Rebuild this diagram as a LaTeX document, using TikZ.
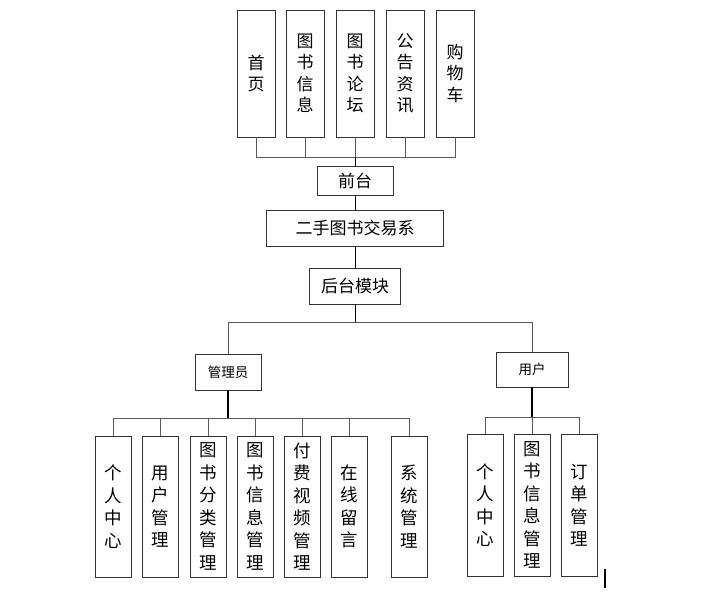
\documentclass[tikz,border=0pt]{standalone}
\usepackage{fontspec}
\setmainfont{Noto Sans CJK SC}

\begin{document}
\begin{tikzpicture}[x=1pt,y=-1pt,
    col/.style={draw=black!80,line width=0.9pt,minimum width=38pt,minimum height=127pt,
      inner sep=0pt,align=center,font=\fontsize{17}{21.5}\selectfont},
    leaf/.style={col,minimum width=36pt,minimum height=141pt,font=\fontsize{17.5}{22.5}\selectfont},
    box/.style={draw=black!80,line width=0.9pt,inner sep=0pt,font=\fontsize{17}{19}\selectfont},
    small/.style={box,font=\fontsize{13.5}{15}\selectfont},
    wire/.style={draw=black!65,line width=0.9pt}]
  \useasboundingbox (0,0) rectangle (704,594);
  % front end
  \node[col] (home) at (256,73.5) {首\\页};
  \node[col] (info) at (305,73.5) {图\\书\\信\\息};
  \node[col] (forum) at (355,73.5) {图\\书\\论\\坛};
  \node[col] (news) at (405,73.5) {公\\告\\资\\讯};
  \node[col] (cart) at (455,73.5) {购\\物\\车};
  \node[box,minimum width=76pt,minimum height=29pt] (front) at (355,180.5) {前台};
  \node[box,minimum width=177pt,minimum height=36pt] (sys) at (355,228) {二手图书交易系};
  \node[box,minimum width=91pt,minimum height=36pt] (back) at (355,286) {后台模块};
  % roles
  \node[small,minimum width=66pt,minimum height=36pt] (admin) at (228,372) {管理员};
  \node[small,minimum width=72pt,minimum height=35pt] (user) at (532,369.5) {用户};
  % admin modules
  \node[leaf] (a1) at (113,506.5) {个\\人\\中\\心};
  \node[leaf] (a2) at (160,506.5) {用\\户\\管\\理};
  \node[leaf] (a3) at (208,506.5) {图\\书\\分\\类\\管\\理};
  \node[leaf] (a4) at (255,506.5) {图\\书\\信\\息\\管\\理};
  \node[leaf] (a5) at (302,506.5) {付\\费\\视\\频\\管\\理};
  \node[leaf] (a6) at (349.5,506.5) {在\\线\\留\\言};
  \node[leaf] (a7) at (409,506.5) {系\\统\\管\\理};
  % user modules
  \node[leaf,minimum height=142pt] (u1) at (485,505) {个\\人\\中\\心};
  \node[leaf,minimum height=142pt] (u2) at (532,505) {图\\书\\信\\息\\管\\理};
  \node[leaf,minimum height=142pt] (u3) at (579,505) {订\\单\\管\\理};
  % buses
  \coordinate (tbus) at (355,157);
  \coordinate (mbus) at (355,322);
  \coordinate (abus) at (228,418);
  \coordinate (ubus) at (532,417);
  \foreach \n in {home,info,forum,news,cart}{\draw[wire] (\n.south) |- (tbus);}
  \draw[line width=0.9pt] (tbus) -- (front.north);
  \draw[line width=0.9pt] (front.south) -- (sys.north);
  \draw[line width=0.9pt] (sys.south) -- (back.north);
  \draw[line width=0.9pt] (back.south) -- (mbus);
  \draw[wire] (mbus) -| (admin.north);
  \draw[wire] (mbus) -| (user.north);
  \foreach \n in {a1,a2,a3,a4,a5,a6,a7}{\draw[wire] (\n.north) |- (abus);}
  \draw[line width=1.2pt] (admin.south) -- (abus);
  \foreach \n in {u1,u2,u3}{\draw[wire] (\n.north) |- (ubus);}
  \draw[line width=1.2pt] (user.south) -- (ubus);
  \draw[line width=1.5pt] (605,569) -- (605,588);
\end{tikzpicture}
\end{document}
